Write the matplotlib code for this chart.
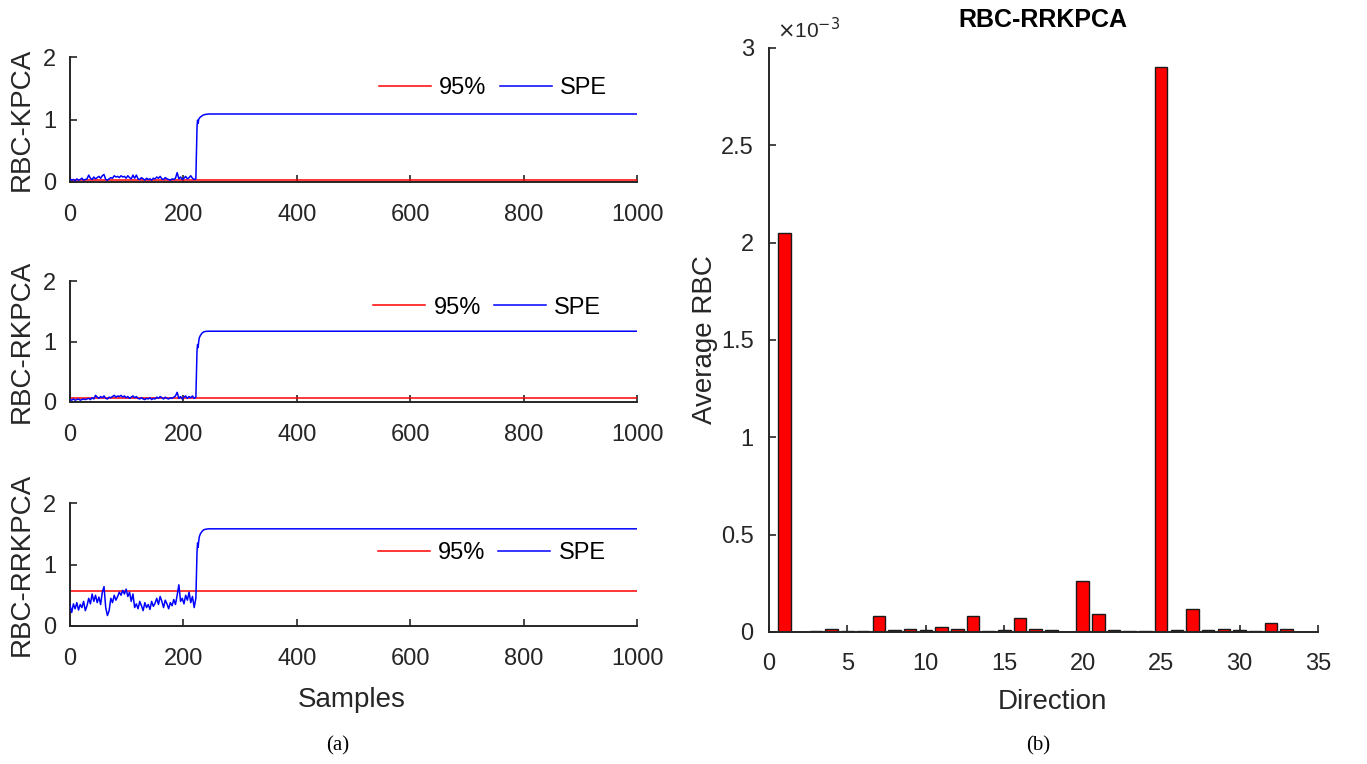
import numpy as np
import matplotlib
matplotlib.use("Agg")
import matplotlib.pyplot as plt
from matplotlib.ticker import FuncFormatter

W, H = 1367, 764

# ---------------- data ----------------
noise_step = 3
kpca_noise = [0.05, 0.03, 0.04, 0.02, 0.05, 0.03, 0.04, 0.06, 0.03, 0.04,
              0.05, 0.11, 0.06, 0.04, 0.08, 0.05, 0.07, 0.09, 0.06, 0.10,
              0.12, 0.04, 0.03, 0.05, 0.07, 0.06, 0.10, 0.08, 0.09, 0.07,
              0.10, 0.08, 0.09, 0.06, 0.10, 0.07, 0.05, 0.11, 0.06, 0.11,
              0.05, 0.04, 0.07, 0.05, 0.03, 0.06, 0.04, 0.05, 0.03, 0.06,
              0.05, 0.08, 0.06, 0.09, 0.05, 0.04, 0.07, 0.05, 0.04, 0.03,
              0.05, 0.04, 0.06, 0.15, 0.05, 0.08, 0.04, 0.06, 0.09, 0.05,
              0.07, 0.10, 0.06, 0.04, 0.05]
rkpca_noise = [0.04, 0.03, 0.05, 0.03, 0.04, 0.05, 0.03, 0.04, 0.05, 0.04,
               0.05, 0.06, 0.04, 0.07, 0.05, 0.11, 0.08, 0.06, 0.09, 0.07,
               0.10, 0.06, 0.05, 0.08, 0.07, 0.09, 0.11, 0.08, 0.10, 0.09,
               0.11, 0.08, 0.10, 0.07, 0.09, 0.06, 0.08, 0.10, 0.07, 0.09,
               0.06, 0.05, 0.07, 0.05, 0.04, 0.06, 0.05, 0.07, 0.04, 0.06,
               0.05, 0.08, 0.06, 0.09, 0.07, 0.05, 0.08, 0.06, 0.05, 0.07,
               0.06, 0.08, 0.10, 0.16, 0.06, 0.09, 0.05, 0.08, 0.10, 0.06,
               0.09, 0.07, 0.10, 0.06, 0.08]
rrkpca_noise = [0.34, 0.22, 0.36, 0.28, 0.38, 0.26, 0.35, 0.30, 0.40, 0.25,
                0.33, 0.45, 0.36, 0.52, 0.40, 0.50, 0.38, 0.47, 0.35, 0.55,
                0.64, 0.30, 0.17, 0.25, 0.45, 0.38, 0.50, 0.42, 0.48, 0.55,
                0.50, 0.58, 0.52, 0.60, 0.48, 0.55, 0.40, 0.52, 0.30, 0.36,
                0.28, 0.40, 0.33, 0.25, 0.38, 0.30, 0.35, 0.27, 0.40, 0.32,
                0.37, 0.45, 0.35, 0.48, 0.40, 0.30, 0.42, 0.36, 0.28, 0.38,
                0.33, 0.43, 0.35, 0.50, 0.67, 0.40, 0.45, 0.36, 0.50, 0.42,
                0.55, 0.38, 0.48, 0.30, 0.45]

fault_samples = [224, 225, 226, 227, 228, 230, 233, 236, 240, 245, 1000]
kpca_fault = [0.88, 0.99, 0.94, 1.00, 1.02, 1.04, 1.06, 1.075, 1.083, 1.088, 1.088]
rkpca_fault = [0.85, 0.95, 0.90, 1.00, 1.06, 1.10, 1.14, 1.16, 1.168, 1.17, 1.17]
rrkpca_fault = [1.20, 1.35, 1.28, 1.38, 1.45, 1.50, 1.54, 1.565, 1.575, 1.58, 1.58]

thresholds = [0.03, 0.07, 0.575]
panel_names = ["RBC-KPCA", "RBC-RKPCA", "RBC-RRKPCA"]

directions = list(range(1, 34))
avg_rbc_e3 = [2.05, 0.002, 0.003, 0.014, 0.006, 0.007, 0.082, 0.008, 0.015, 0.012,
              0.024, 0.015, 0.082, 0.006, 0.008, 0.073, 0.015, 0.008, 0.002, 0.26,
              0.093, 0.012, 0.005, 0.004, 2.90, 0.010, 0.118, 0.010, 0.013, 0.010,
              0.004, 0.046, 0.013]

x_ticks_left = [0, 200, 400, 600, 800, 1000]
y_ticks_left = [0, 1, 2]
x_ticks_right = [0, 5, 10, 15, 20, 25, 30, 35]
y_ticks_right = [0, 0.5, 1, 1.5, 2, 2.5, 3]

# ---------------- style ----------------
plt.rcParams['font.family'] = ['Liberation Sans', 'DejaVu Sans']
AX_COL = '#262626'
TICK_FS = 17
LABEL_FS = 20


def px_axes(fig, l, t, r, b):
    return fig.add_axes([l / W, 1 - b / H, (r - l) / W, (b - t) / H])


def style_axes(ax, xpad, ypad):
    for s in ['top', 'right']:
        ax.spines[s].set_visible(False)
    for s in ['left', 'bottom']:
        ax.spines[s].set_color(AX_COL)
        ax.spines[s].set_linewidth(1.4)
    ax.tick_params(direction='in', length=5, width=1.2, colors=AX_COL,
                   labelsize=TICK_FS, labelcolor='#262626')
    ax.tick_params(axis='y', pad=ypad)
    ax.tick_params(axis='x', pad=xpad)


fig = plt.figure(figsize=(W / 100, H / 100), dpi=100)

panel_px = [(70, 57, 637, 182), (70, 281, 637, 402), (70, 503, 637, 626)]
noises = [kpca_noise, rkpca_noise, rrkpca_noise]
faults = [kpca_fault, rkpca_fault, rrkpca_fault]
legend_anchor = [(0.746, 0.75), (0.736, 0.78), (0.744, 0.59)]

for k in range(3):
    l, t, r, b = panel_px[k]
    ax = px_axes(fig, l, t, r, b)
    nx = list(np.arange(len(noises[k])) * noise_step)
    xs = nx + fault_samples
    ys = list(noises[k]) + list(faults[k])
    ax.plot([0, 1000], [thresholds[k], thresholds[k]], color='#FF0000', lw=1.1,
            label='95%', zorder=2)
    ax.plot(xs, ys, color='#0000FF', lw=1.1, label='SPE', zorder=3)
    ax.set_xlim(0, 1000)
    ax.set_ylim(0, 2)
    ax.set_xticks(x_ticks_left)
    ax.set_yticks(y_ticks_left)
    style_axes(ax, xpad=16, ypad=10)
    ax.legend(loc='center', bbox_to_anchor=legend_anchor[k], ncol=2, frameon=False,
              fontsize=TICK_FS, handlelength=2.2, handletextpad=0.35,
              columnspacing=0.55)
    fig.text(22 / W, 1 - ((t + b) / 2) / H, panel_names[k], rotation=90,
             ha='center', va='center', fontsize=LABEL_FS, color='#262626')

fig.text(352 / W, 1 - 700 / H, "Samples", ha='center', va='center',
         fontsize=LABEL_FS, color='#262626')

# right panel
axr = px_axes(fig, 769, 48, 1318, 632)
axr.bar(directions, avg_rbc_e3, width=0.8, color='#FF0000', edgecolor='#1a1a1a',
        linewidth=1.0, zorder=2)
axr.set_xlim(0, 35)
axr.set_ylim(0, 3)
axr.set_xticks(x_ticks_right)
axr.set_yticks(y_ticks_right)
axr.yaxis.set_major_formatter(FuncFormatter(lambda v, p: f"{v:g}"))
style_axes(axr, xpad=15, ypad=11)
fig.text(1052 / W, 1 - 702 / H, "Direction", ha='center', va='center',
         fontsize=LABEL_FS, color='#262626')
fig.text(705 / W, 1 - 340 / H, "Average RBC", rotation=90, ha='center', va='center',
         fontsize=LABEL_FS, color='#262626')
fig.text(1043 / W, 1 - 20 / H, "RBC-RRKPCA", ha='center', va='center',
         fontsize=18, fontweight='bold', color='black')
fig.text(777 / W, 1 - 30 / H, r"$\times$10$^{-3}$", ha='left', va='center',
         fontsize=15, color='#262626')

# captions
fig.text(338 / W, 1 - 746 / H, "(a)", ha='center', va='center',
         fontsize=15, family='Liberation Serif', color='black')
fig.text(1038 / W, 1 - 746 / H, "(b)", ha='center', va='center',
         fontsize=15, family='Liberation Serif', color='black')

fig.savefig("out.png", dpi=100)
